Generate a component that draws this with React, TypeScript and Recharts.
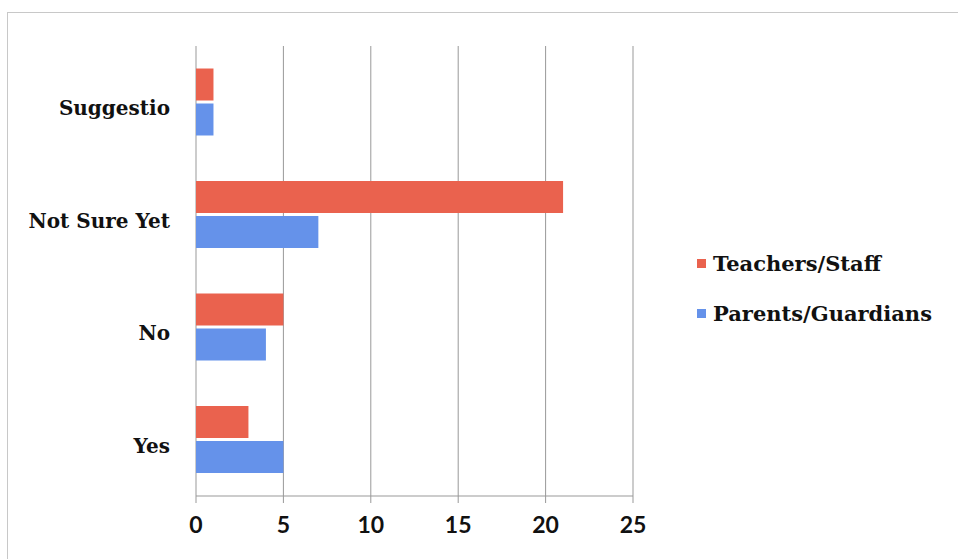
import { BarChart, Bar, XAxis, YAxis, CartesianGrid } from 'recharts';

const categories = ['Suggestio', 'Not Sure Yet', 'No', 'Yes'];
const teachersStaff = [1, 21, 5, 3];
const parentsGuardians = [1, 7, 4, 5];
const xTicks = [0, 5, 10, 15, 20, 25];

const data = categories.map((name, i) => ({
  name,
  teachers: teachersStaff[i],
  parents: parentsGuardians[i],
}));

const RED = '#ea624e';
const BLUE = '#6592ea';

const serif = '"DejaVu Serif", serif';

const legendItems = [
  { label: 'Teachers/Staff', color: RED },
  { label: 'Parents/Guardians', color: BLUE },
];

export default function App() {
  return (
    <div style={{ position: 'absolute', left: 0, top: 0, width: 958, height: 559, background: '#fff', overflow: 'hidden' }}>
      <div style={{ position: 'absolute', left: 7, top: 12, width: 960, height: 560, border: '1px solid #c8c8c8' }} />
      <div style={{ position: 'absolute' }}>
        <BarChart
          width={958}
          height={559}
          data={data}
          layout="vertical"
          margin={{ top: 46, right: 325, bottom: 33, left: 0 }}
          barCategoryGap="20%"
          barGap={3}
        >
          <CartesianGrid horizontal={false} stroke="#999" />
          <XAxis
            type="number"
            domain={[0, 25]}
            ticks={xTicks}
            interval={0}
            stroke="#999"
            tickSize={7}
            tickMargin={14}
            tick={{ fill: '#111', fontFamily: 'Lato, sans-serif', fontSize: 23, fontWeight: 'bold' }}
          />
          <YAxis
            type="category"
            dataKey="name"
            width={196}
            axisLine={false}
            tickLine={false}
            tickSize={0}
            tickMargin={26}
            tick={{ fill: '#111', fontFamily: serif, fontSize: 20, fontWeight: 'bold', dy: 6 }}
          />
          <Bar dataKey="teachers" name="Teachers/Staff" fill={RED} isAnimationActive={false} />
          <Bar dataKey="parents" name="Parents/Guardians" fill={BLUE} isAnimationActive={false} />
        </BarChart>
      </div>
      <div style={{ position: 'absolute', left: 697, top: 248, fontFamily: serif, fontSize: 21, fontWeight: 'bold', color: '#111' }}>
        {legendItems.map((item) => (
          <div key={item.label} style={{ display: 'flex', alignItems: 'center', height: 30, marginBottom: 20 }}>
            <span style={{ width: 9, height: 9, background: item.color, marginRight: 7, display: 'inline-block' }} />
            {item.label}
          </div>
        ))}
      </div>
    </div>
  );
}
